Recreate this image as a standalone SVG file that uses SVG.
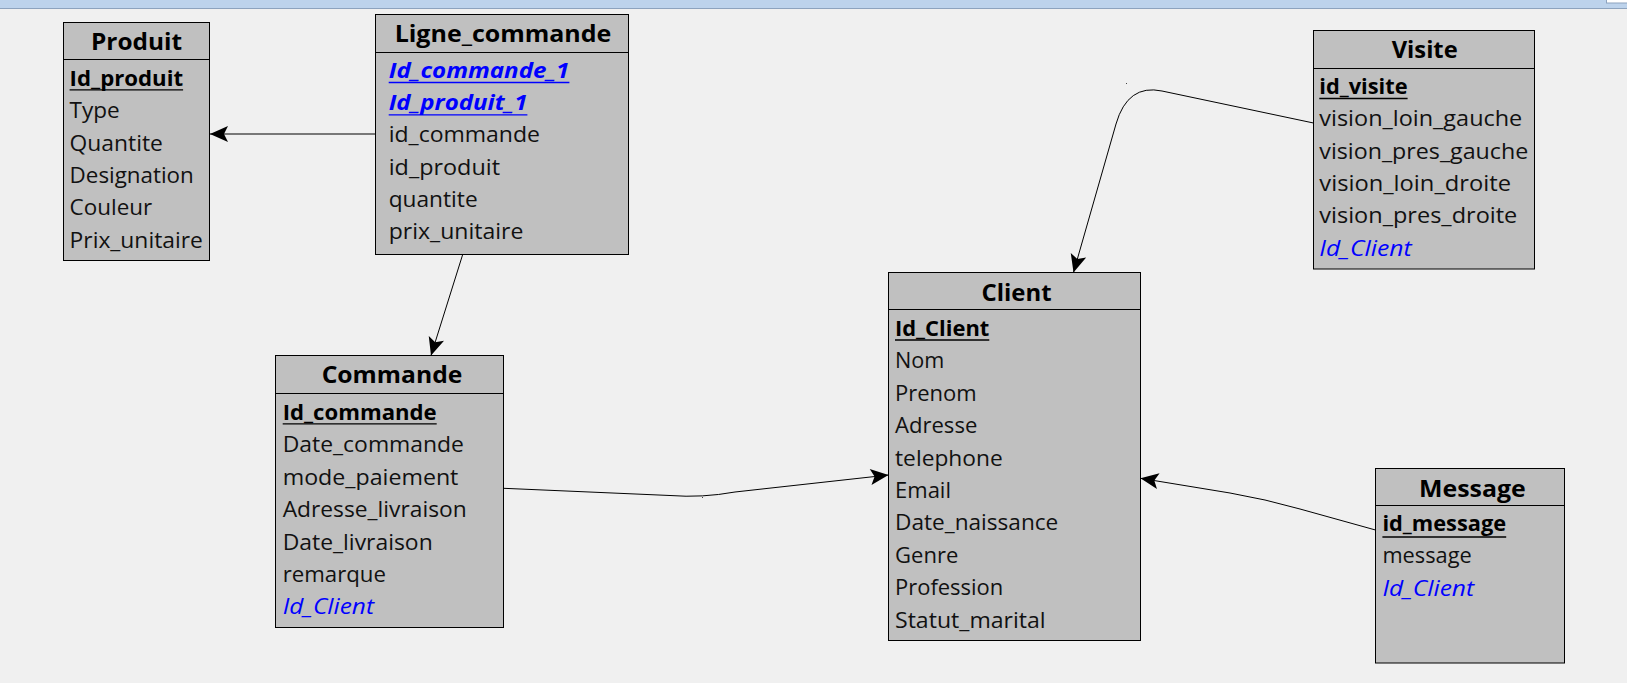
<svg xmlns="http://www.w3.org/2000/svg" width="1627" height="683" viewBox="0 0 1627 683">
<defs>
<style>
.bg{fill:#F0F0F0}
.bar{fill:#BDD3EC}
.box{fill:#C0C0C0;stroke:#000;stroke-width:1}
.sep{stroke:#000;stroke-width:1}
.t{font-family:"Open Sans","Liberation Sans",sans-serif;font-weight:bold;font-size:24px;text-anchor:middle;fill:#000}
.r{font-family:"Open Sans","Liberation Sans",sans-serif;font-size:21px;fill:#111}
.k{font-weight:bold;fill:#000}
.f{font-style:italic;fill:#0000FF}
.ul{stroke:#000;stroke-width:1.3}
.ulf{stroke:#0000FF;stroke-width:1.3}
.c{fill:none;stroke:#000;stroke-width:1;marker-end:url(#arr)}
</style>
<marker id="arr" markerUnits="userSpaceOnUse" viewBox="-20 -10 22 20" refX="0" refY="0" markerWidth="22" markerHeight="20" orient="auto" overflow="visible">
<path d="M0,0 L-18,-8 L-14,0 L-18,8 Z" fill="#000"/>
</marker>
</defs>
<rect class="bg" x="0" y="0" width="1627" height="683"/>
<rect class="bar" x="0" y="0" width="1627" height="8"/>
<line x1="0" y1="8.5" x2="1627" y2="8.5" stroke="#8DA3BE" stroke-width="1"/>
<rect x="1606.5" y="-1" width="22" height="4" fill="#FFFFFF" stroke="#8DA3BE" stroke-width="1"/>

<g id="connectors">
<path class="c" d="M375.5,134 L210,134"/>
<path class="c" d="M462.7,254.5 L431,355.5"/>
<path class="c" d="M503.5,488.3 L670,495.5 Q702,498 735,492 L888.5,475"/>
<path class="c" d="M1313.5,123 L1162,91 Q1127.6,83.7 1116,124 L1073.5,272.5"/>
<path class="c" d="M1375.5,530 L1300,509 Q1265,499 1230,493 L1140.5,478.3"/>
<rect x="1126" y="83" width="1" height="1" fill="#444"/>
<rect x="702" y="497" width="1" height="1" fill="#444"/>
</g>

<g id="produit">
<rect class="box" x="63.5" y="22.5" width="146" height="238"/>
<line class="sep" x1="63.5" y1="59.5" x2="209.5" y2="59.5"/>
<text class="t" x="136.5" y="50" textLength="91" lengthAdjust="spacingAndGlyphs">Produit</text>
<text class="r k" x="69.6" y="86" textLength="113.5" lengthAdjust="spacingAndGlyphs">Id_produit</text>
<line class="ul" x1="69.6" y1="89.8" x2="183.1" y2="89.8"/>
<text class="r" x="69.6" y="118.3" textLength="50.2" lengthAdjust="spacingAndGlyphs">Type</text>
<text class="r" x="69.6" y="150.6" textLength="93.3" lengthAdjust="spacingAndGlyphs">Quantite</text>
<text class="r" x="69.6" y="182.9" textLength="124.2" lengthAdjust="spacingAndGlyphs">Designation</text>
<text class="r" x="69.6" y="215.2" textLength="82.6" lengthAdjust="spacingAndGlyphs">Couleur</text>
<text class="r" x="69.6" y="247.5" textLength="133.3" lengthAdjust="spacingAndGlyphs">Prix_unitaire</text>
</g>

<g id="ligne_commande">
<rect class="box" x="375.5" y="14.5" width="253" height="240"/>
<line class="sep" x1="375.5" y1="52.5" x2="628.5" y2="52.5"/>
<text class="t" x="503" y="42" textLength="216.7" lengthAdjust="spacingAndGlyphs">Ligne_commande</text>
<text class="r k f" x="388.7" y="77.7" textLength="180.7" lengthAdjust="spacingAndGlyphs" fill="#0000FF" style="fill:#0000FF">Id_commande_1</text>
<line class="ulf" x1="388.7" y1="82.5" x2="569.4" y2="82.5"/>
<text class="r k f" x="388.7" y="110" textLength="138.7" lengthAdjust="spacingAndGlyphs" style="fill:#0000FF">Id_produit_1</text>
<line class="ulf" x1="388.7" y1="114.8" x2="527.4" y2="114.8"/>
<text class="r" x="388.7" y="142.3" textLength="151.3" lengthAdjust="spacingAndGlyphs">id_commande</text>
<text class="r" x="388.7" y="174.6" textLength="111.3" lengthAdjust="spacingAndGlyphs">id_produit</text>
<text class="r" x="388.7" y="207" textLength="89" lengthAdjust="spacingAndGlyphs">quantite</text>
<text class="r" x="388.7" y="239.3" textLength="134.7" lengthAdjust="spacingAndGlyphs">prix_unitaire</text>
</g>

<g id="commande">
<rect class="box" x="275.5" y="355.5" width="228" height="272"/>
<line class="sep" x1="275.5" y1="393.5" x2="503.5" y2="393.5"/>
<text class="t" x="392" y="383" textLength="140.7" lengthAdjust="spacingAndGlyphs">Commande</text>
<text class="r k" x="282.7" y="420" textLength="154" lengthAdjust="spacingAndGlyphs">Id_commande</text>
<line class="ul" x1="282.7" y1="423.8" x2="436.7" y2="423.8"/>
<text class="r" x="282.7" y="452.4" textLength="181.3" lengthAdjust="spacingAndGlyphs">Date_commande</text>
<text class="r" x="282.7" y="484.8" textLength="175.7" lengthAdjust="spacingAndGlyphs">mode_paiement</text>
<text class="r" x="282.7" y="517.2" textLength="184" lengthAdjust="spacingAndGlyphs">Adresse_livraison</text>
<text class="r" x="282.7" y="549.6" textLength="150" lengthAdjust="spacingAndGlyphs">Date_livraison</text>
<text class="r" x="282.7" y="582" textLength="103.3" lengthAdjust="spacingAndGlyphs">remarque</text>
<text class="r f" x="282.7" y="614.4" textLength="91.3" lengthAdjust="spacingAndGlyphs">Id_Client</text>
</g>

<g id="client">
<rect class="box" x="888.5" y="272.5" width="252" height="368"/>
<line class="sep" x1="888.5" y1="309.5" x2="1140.5" y2="309.5"/>
<text class="t" x="1016.5" y="300.5" textLength="70" lengthAdjust="spacingAndGlyphs">Client</text>
<text class="r k" x="895" y="336" textLength="94.3" lengthAdjust="spacingAndGlyphs">Id_Client</text>
<line class="ul" x1="895" y1="340" x2="989.3" y2="340"/>
<text class="r" x="895" y="368.4" textLength="49.3" lengthAdjust="spacingAndGlyphs">Nom</text>
<text class="r" x="895" y="400.8" textLength="81.7" lengthAdjust="spacingAndGlyphs">Prenom</text>
<text class="r" x="895" y="433.2" textLength="82.3" lengthAdjust="spacingAndGlyphs">Adresse</text>
<text class="r" x="895" y="465.6" textLength="107.7" lengthAdjust="spacingAndGlyphs">telephone</text>
<text class="r" x="895" y="498" textLength="56" lengthAdjust="spacingAndGlyphs">Email</text>
<text class="r" x="895" y="530.4" textLength="163.3" lengthAdjust="spacingAndGlyphs">Date_naissance</text>
<text class="r" x="895" y="562.8" textLength="63.3" lengthAdjust="spacingAndGlyphs">Genre</text>
<text class="r" x="895" y="595.2" textLength="108.3" lengthAdjust="spacingAndGlyphs">Profession</text>
<text class="r" x="895" y="627.6" textLength="150.7" lengthAdjust="spacingAndGlyphs">Statut_marital</text>
</g>

<g id="visite">
<rect class="box" x="1313.5" y="30.5" width="221" height="238.5"/>
<line class="sep" x1="1313.5" y1="68.5" x2="1534.5" y2="68.5"/>
<text class="t" x="1424.7" y="58" textLength="66" lengthAdjust="spacingAndGlyphs">Visite</text>
<text class="r k" x="1319.3" y="94" textLength="88.3" lengthAdjust="spacingAndGlyphs">id_visite</text>
<line class="ul" x1="1319.3" y1="98.5" x2="1407.6" y2="98.5"/>
<text class="r" x="1319.3" y="126.3" textLength="203" lengthAdjust="spacingAndGlyphs">vision_loin_gauche</text>
<text class="r" x="1319.3" y="158.6" textLength="209" lengthAdjust="spacingAndGlyphs">vision_pres_gauche</text>
<text class="r" x="1319.3" y="190.9" textLength="191.7" lengthAdjust="spacingAndGlyphs">vision_loin_droite</text>
<text class="r" x="1319.3" y="223.2" textLength="198" lengthAdjust="spacingAndGlyphs">vision_pres_droite</text>
<text class="r f" x="1319.3" y="255.5" textLength="92.3" lengthAdjust="spacingAndGlyphs">Id_Client</text>
</g>

<g id="message">
<rect class="box" x="1375.5" y="468.5" width="189" height="194.5"/>
<line class="sep" x1="1375.5" y1="505.5" x2="1564.5" y2="505.5"/>
<text class="t" x="1472.4" y="496.5" textLength="106.7" lengthAdjust="spacingAndGlyphs">Message</text>
<text class="r k" x="1382.4" y="531" textLength="123.8" lengthAdjust="spacingAndGlyphs">id_message</text>
<line class="ul" x1="1382.4" y1="537" x2="1506.2" y2="537"/>
<text class="r" x="1382.4" y="563.4" textLength="89.3" lengthAdjust="spacingAndGlyphs">message</text>
<text class="r f" x="1382.4" y="595.8" textLength="91.7" lengthAdjust="spacingAndGlyphs">Id_Client</text>
</g>
</svg>
